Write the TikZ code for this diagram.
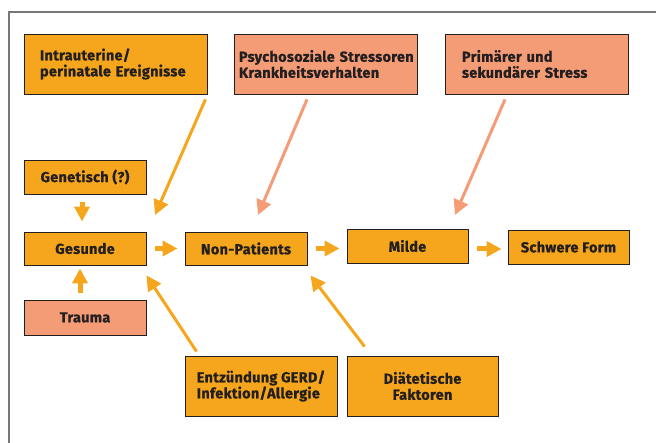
\documentclass[tikz,border=0pt]{standalone}
\usepackage{fontspec}
\setmainfont{Fira Sans}[BoldFont={Fira Sans Bold},BoldFeatures={FakeBold=0.8,LetterSpace=2}]
\usetikzlibrary{arrows.meta,calc}
\definecolor{orng}{RGB}{246,166,28}
\definecolor{salm}{RGB}{244,156,118}
\definecolor{txt}{RGB}{35,31,32}
\definecolor{frm}{RGB}{120,120,120}
\tikzset{
  box/.style={draw=txt, line width=0.9pt, inner sep=0pt, font=\bfseries\fontsize{14.5}{16}\selectfont, text=txt},
  obox/.style={box, fill=orng},
  sbox/.style={box, fill=salm},
  wbox/.style={minimum width=183pt, minimum height=60pt, text width=183pt, align=left},
  arr/.style={line width=3pt, -{Triangle[length=15pt,width=15pt]}},
  harr/.style={line width=5pt, -{Triangle[length=15pt,width=15pt]}},
}
\begin{document}
\begin{tikzpicture}[x=1pt,y=-1pt]
\useasboundingbox (0,0) rectangle (656,443);
\draw[frm, line width=1.4pt] (656,12) -- (9,12) -- (9,443);
% top boxes
\node[obox, wbox] (intra) at (115.5,64) {\hspace*{16pt}Intrauterine/\\\hspace*{16pt}perinatale Ereignisse};
\node[sbox, wbox] (psycho) at (325.5,64) {\hspace*{5pt}Psychosoziale Stressoren\\\hspace*{5pt}Krankheitsverhalten};
\node[sbox, wbox] (prim) at (536.5,64) {\hspace*{17pt}Primärer und\\\hspace*{17pt}sekundärer Stress};
% middle row
\node[obox, minimum width=122pt, minimum height=34pt] (gen) at (85,177) {Genetisch (?)};
\node[obox, minimum width=122pt, minimum height=33pt] (ges) at (85,248.5) {Gesunde};
\node[obox, minimum width=122pt, minimum height=33pt] (nonp) at (246,248.5) {Non-Patients};
\node[obox, minimum width=121pt, minimum height=34pt] (milde) at (407.5,246) {Milde};
\node[obox, minimum width=121pt, minimum height=34pt] (schwer) at (568.5,247) {Schwere Form};
\node[sbox, minimum width=122pt, minimum height=35pt] (trauma) at (85,317.5) {Trauma};
% bottom
\node[obox, minimum width=152pt, minimum height=60pt, align=left] (entz) at (261,386) {Entzündung GERD/\\Infektion/Allergie};
\node[obox, minimum width=151pt, minimum height=60pt, align=center] (diat) at (422.5,386) {Diätetische\\Faktoren};
% free arrow ends
\coordinate (t1) at (155,215);
\coordinate (t2) at (258,215);
\coordinate (t3) at (455,215);
% arrows
\draw[arr, orng] ([xshift=-2pt,yshift=-5pt]intra.south east) -- (t1);
\draw[arr, salm] ([xshift=-18.5pt,yshift=-5pt]psycho.south) -- (t2);
\draw[arr, salm] ([xshift=-31.5pt,yshift=-5pt]prim.south) -- (t3);
\draw[harr, orng, shorten <=8pt, shorten >=10pt] ([xshift=-3pt]gen.south) -- ([xshift=-3pt]ges.north);
\draw[harr, orng, shorten <=7pt, shorten >=3pt] ([xshift=-5pt]trauma.north) -- ([xshift=-5pt]ges.south);
\draw[harr, orng, shorten <=9pt, shorten >=7pt] (ges.east) -- (nonp.west);
\draw[harr, orng, shorten <=9pt, shorten >=7pt] (nonp.east) -- (nonp.east -| milde.west);
\draw[harr, orng, shorten <=9pt, shorten >=6pt] ([yshift=-3pt]milde.east) -- ([yshift=-3pt]milde.east -| schwer.west);
\draw[arr, orng] ([xshift=12pt,yshift=4pt]entz.north west) -- ([yshift=-10pt]ges.south east);
\draw[arr, orng] ([xshift=18pt,yshift=9pt]diat.north west) -- ([xshift=3pt,yshift=-10pt]nonp.south east);
\end{tikzpicture}
\end{document}
